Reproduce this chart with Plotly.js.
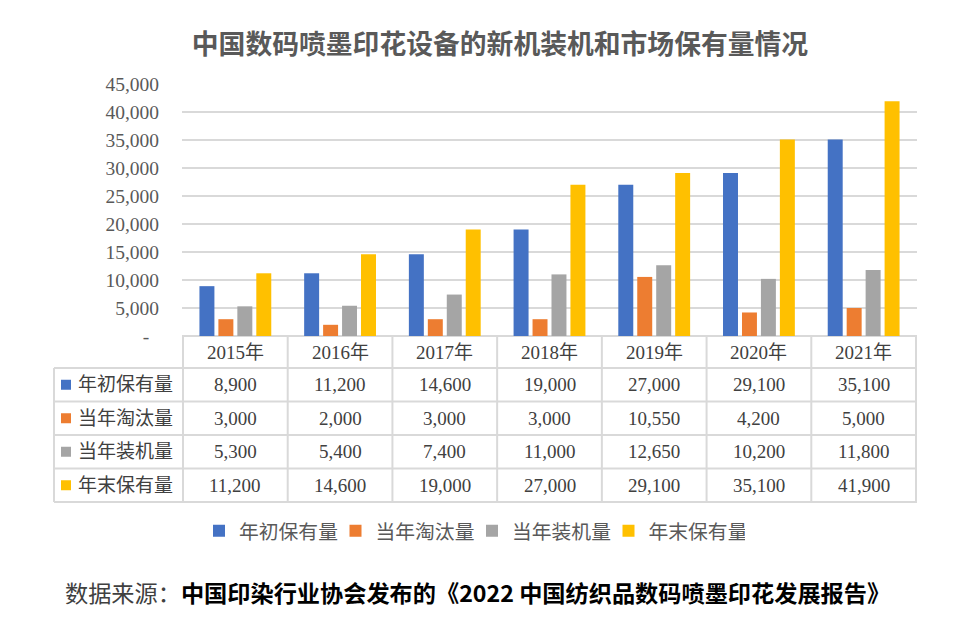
<!DOCTYPE html>
<html>
<head>
<meta charset="utf-8">
<script src="https://cdn.plot.ly/plotly-3.0.1.min.js"></script>
<style>
  html, body { margin: 0; padding: 0; background: #ffffff; }
  #chart { width: 977px; height: 620px; }
</style>
</head>
<body>
<div id="chart"></div>
<script>
// ---- data ----
var years = ['2015年', '2016年', '2017年', '2018年', '2019年', '2020年', '2021年'];
var seriesNames = ['年初保有量', '当年淘汰量', '当年装机量', '年末保有量'];
var beginStock = [8900, 11200, 14600, 19000, 27000, 29100, 35100];
var retired = [3000, 2000, 3000, 3000, 10550, 4200, 5000];
var installed = [5300, 5400, 7400, 11000, 12650, 10200, 11800];
var endStock = [11200, 14600, 19000, 27000, 29100, 35100, 41900];
var yTickVals = [0, 5000, 10000, 15000, 20000, 25000, 30000, 35000, 40000, 45000];
var yTickText = ['-\u00a0\u00a0', '5,000', '10,000', '15,000', '20,000', '25,000', '30,000', '35,000', '40,000', '45,000'];
var titleText = '中国数码喷墨印花设备的新机装机和市场保有量情况';
var sourceLabel = '数据来源：';
var sourceText = '中国印染行业协会发布的《2022 中国纺织品数码喷墨印花发展报告》';

// ---- styles ----
var colors = ['#4472C4', '#ED7D31', '#A5A5A5', '#FFC000'];
var allSeries = [beginStock, retired, installed, endStock];
var W = 977, H = 620;
var M = {l: 182, r: 60, t: 84, b: 284};
var plotH = H - M.t - M.b;     // 252
var plotW = W - M.l - M.r;     // 735
var yBase = H - M.b;           // 336 px
function py(p) { return (yBase - p) / plotH; }   // pixel y -> paper y
function px(p) { return (p - M.l) / plotW; }     // pixel x -> paper x
var tableFont = {family: 'Liberation Serif, Noto Sans CJK SC, serif', size: 19, color: '#404040'};
var lineColor = '#d9d9d9';

function fmt(n) { return String(n).replace(/\B(?=(\d{3})+(?!\d))/g, ','); }

// ---- traces ----
var traces = allSeries.map(function (vals, i) {
  return {
    type: 'bar', name: seriesNames[i], x: years, y: vals,
    marker: {color: colors[i]}, hoverinfo: 'skip'
  };
});

// ---- table (shapes + annotations) ----
var rowEdges = [368, 401.5, 435, 468.5, 502];
var shapes = [];
var annotations = [];
rowEdges.forEach(function (e) {
  shapes.push({type: 'line', xref: 'paper', yref: 'paper', x0: px(54), x1: 1, y0: py(e), y1: py(e),
               line: {color: lineColor, width: 2}});
});
shapes.push({type: 'line', xref: 'paper', yref: 'paper', x0: px(54), x1: px(54), y0: py(368), y1: py(502),
             line: {color: lineColor, width: 2}});
for (var k = 0; k <= years.length; k++) {
  shapes.push({type: 'line', xref: 'x', yref: 'paper', x0: k - 0.5, x1: k - 0.5, y0: 0, y1: py(502),
               line: {color: lineColor, width: 2}});
}
years.forEach(function (yr, i) {
  annotations.push({xref: 'x', yref: 'paper', x: i, y: py(352), text: yr, showarrow: false,
                    xanchor: 'center', yanchor: 'middle', font: tableFont});
});
allSeries.forEach(function (vals, r) {
  var c = (rowEdges[r] + rowEdges[r + 1]) / 2;
  shapes.push({type: 'rect', xref: 'paper', yref: 'paper', x0: px(61), x1: px(71), y0: py(c - 5), y1: py(c + 5),
               fillcolor: colors[r], line: {width: 0}});
  annotations.push({xref: 'paper', yref: 'paper', x: px(76), y: py(c), text: seriesNames[r], showarrow: false,
                    xanchor: 'left', yanchor: 'middle', font: tableFont});
  vals.forEach(function (v, i) {
    annotations.push({xref: 'x', yref: 'paper', x: i, y: py(c), text: fmt(v), showarrow: false,
                      xanchor: 'center', yanchor: 'middle', font: tableFont});
  });
});
annotations.push({
  xref: 'paper', yref: 'paper', x: px(63), y: py(592), xanchor: 'left', yanchor: 'middle', showarrow: false,
  text: '<span style="color:#404040">' + sourceLabel + '</span><b>' + sourceText + '</b>',
  font: {family: 'Noto Sans CJK SC, sans-serif', size: 23.2, color: '#000000'}
});

var layout = {
  width: W, height: H,
  margin: M,
  paper_bgcolor: '#ffffff', plot_bgcolor: '#ffffff',
  title: {
    text: titleText, xref: 'container', yref: 'container', x: 500 / W, y: 1 - 44.5 / H,
    xanchor: 'center', yanchor: 'middle',
    font: {family: 'Noto Sans CJK SC, sans-serif', size: 26.8, color: '#595959', weight: 'bold'}
  },
  barmode: 'group', bargap: 0.276, bargroupgap: 0.21,
  xaxis: {showticklabels: false, showgrid: false, zeroline: false, showline: false, ticks: ''},
  yaxis: {
    range: [0, 45000], tickvals: yTickVals, ticktext: yTickText,
    showgrid: true, gridcolor: lineColor, gridwidth: 1.5,
    zeroline: true, zerolinecolor: lineColor, zerolinewidth: 2,
    showline: false, ticks: '', ticklabelstandoff: 22,
    tickfont: {family: 'Liberation Serif, serif', size: 19.5, color: '#595959'}
  },
  showlegend: true,
  legend: {
    orientation: 'h', xref: 'paper', yref: 'paper', x: px(199), y: py(531),
    xanchor: 'left', yanchor: 'middle', entrywidth: 91.5, entrywidthmode: 'pixels',
    font: {family: 'Noto Sans CJK SC, sans-serif', size: 19.8, color: '#595959'},
    bgcolor: 'rgba(0,0,0,0)', borderwidth: 0, traceorder: 'normal'
  },
  shapes: shapes,
  annotations: annotations
};

Plotly.newPlot('chart', traces, layout, {displayModeBar: false, staticPlot: true});
</script>
</body>
</html>
